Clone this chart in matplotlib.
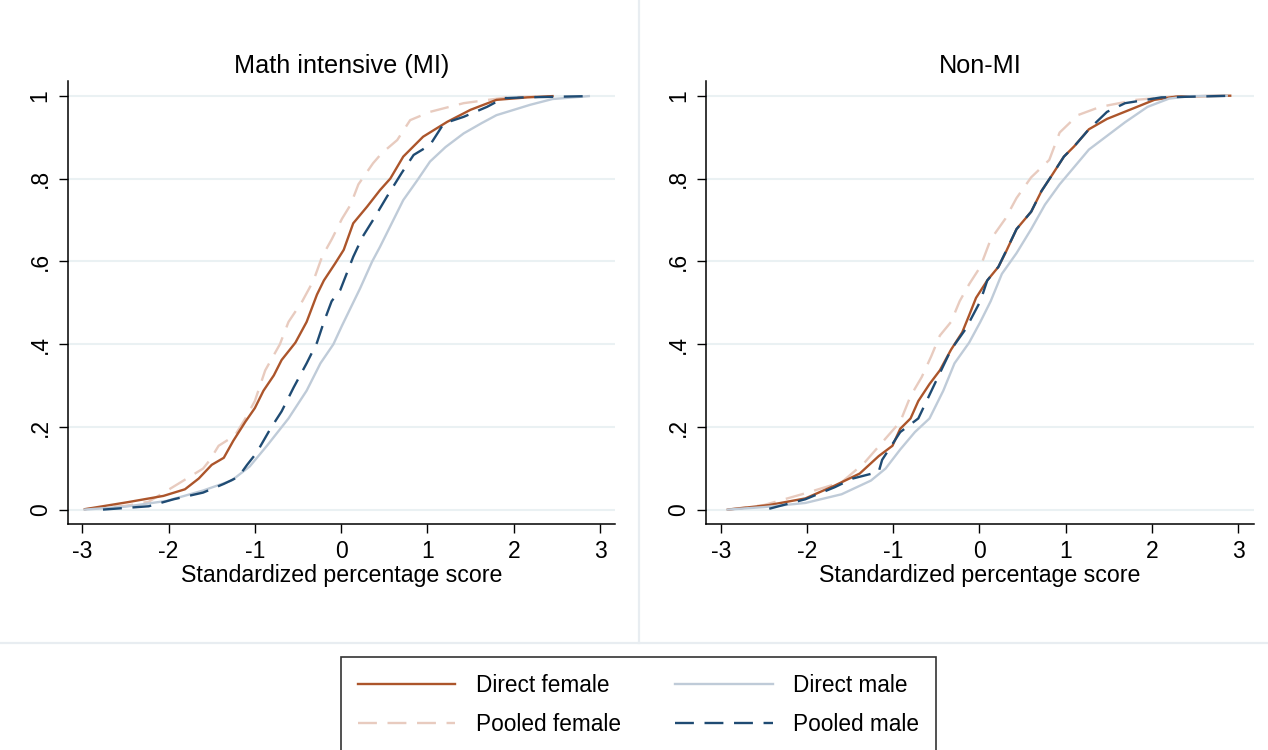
import matplotlib
matplotlib.use("Agg")
import matplotlib.pyplot as plt
from matplotlib.lines import Line2D

plt.rcParams["font.family"] = ["Liberation Sans", "DejaVu Sans"]

# ---- data (score, cumulative share) ----
# Math intensive (MI)
mi_dir_f_x = [-2.97, -2.47, -2.06, -1.81, -1.65, -1.50, -1.36, -1.25, -1.11, -1.00, -0.90, -0.78, -0.69,
              -0.53, -0.40, -0.28, -0.20, -0.07, 0.03, 0.14, 0.30, 0.45, 0.57, 0.72, 0.95, 1.23, 1.50,
              1.80, 2.16, 2.45]
mi_dir_f_y = [0.002, 0.019, 0.034, 0.050, 0.076, 0.109, 0.126, 0.167, 0.213, 0.246, 0.288, 0.325, 0.362,
              0.404, 0.454, 0.520, 0.554, 0.595, 0.628, 0.692, 0.732, 0.772, 0.800, 0.853, 0.901, 0.937,
              0.966, 0.990, 0.996, 0.999]

mi_pool_f_x = [-2.97, -2.50, -2.23, -1.89, -1.60, -1.52, -1.42, -1.23, -1.11, -1.00, -0.88, -0.71, -0.61,
               -0.45, -0.32, -0.22, -0.11, 0.01, 0.11, 0.20, 0.37, 0.47, 0.65, 0.80, 1.03, 1.42,
               1.92, 2.45]
mi_pool_f_y = [0.002, 0.010, 0.020, 0.063, 0.100, 0.121, 0.155, 0.180, 0.221, 0.263, 0.337, 0.400, 0.454,
               0.504, 0.554, 0.612, 0.653, 0.703, 0.737, 0.786, 0.837, 0.861, 0.893, 0.941, 0.961, 0.982,
               0.996, 0.999]

mi_dir_m_x = [-2.97, -2.50, -2.02, -1.60, -1.27, -1.06, -0.86, -0.61, -0.40, -0.24, -0.09, 0.01,
              0.22, 0.36, 0.45, 0.72, 0.88, 1.03, 1.21, 1.42, 1.63, 1.80, 2.19, 2.45, 2.87]
mi_dir_m_y = [0.001, 0.008, 0.022, 0.047, 0.071, 0.105, 0.155, 0.221, 0.288, 0.354, 0.400, 0.445,
              0.535, 0.600, 0.635, 0.748, 0.795, 0.841, 0.876, 0.909, 0.934, 0.953, 0.978, 0.992, 0.999]

mi_pool_m_x = [-2.76, -2.23, -1.94, -1.60, -1.36, -1.19, -1.09, -0.98, -0.82, -0.69, -0.55, -0.40, -0.28,
               -0.20, -0.11, -0.01, 0.14, 0.25, 0.37, 0.53, 0.70, 0.84, 1.03, 1.19, 1.42, 1.69, 1.88,
               2.12, 2.87]
mi_pool_m_y = [0.001, 0.009, 0.026, 0.042, 0.063, 0.080, 0.109, 0.138, 0.196, 0.238, 0.296, 0.354, 0.404,
               0.454, 0.504, 0.531, 0.611, 0.660, 0.700, 0.756, 0.813, 0.857, 0.881, 0.933, 0.949, 0.973,
               0.994, 0.996, 0.999]

# Non-MI
nm_dir_f_x = [-2.92, -2.44, -2.02, -1.68, -1.39, -1.17, -1.01, -0.92, -0.80, -0.71, -0.58, -0.46, -0.33,
              -0.20, -0.12, -0.04, 0.09, 0.22, 0.30, 0.43, 0.60, 0.72, 0.85, 0.98, 1.10, 1.27, 1.48,
              1.78, 2.03, 2.28, 2.91]
nm_dir_f_y = [0.001, 0.012, 0.028, 0.059, 0.088, 0.130, 0.155, 0.196, 0.221, 0.263, 0.304, 0.337, 0.387,
              0.429, 0.470, 0.512, 0.554, 0.587, 0.620, 0.678, 0.720, 0.770, 0.811, 0.853, 0.878, 0.919,
              0.944, 0.969, 0.990, 0.998, 1.000]

nm_pool_f_x = [-2.92, -2.50, -2.06, -1.60, -1.34, -1.13, -0.92, -0.80, -0.67, -0.56, -0.46, -0.33, -0.23,
               -0.12, 0.01, 0.13, 0.30, 0.43, 0.60, 0.81, 0.93, 1.14, 1.40, 1.82, 2.24]
nm_pool_f_y = [0.001, 0.012, 0.038, 0.067, 0.113, 0.163, 0.213, 0.275, 0.321, 0.371, 0.421, 0.454, 0.504,
               0.545, 0.587, 0.653, 0.703, 0.753, 0.803, 0.845, 0.911, 0.953, 0.973, 0.990, 0.998]

nm_dir_m_x = [-2.92, -2.50, -2.02, -1.60, -1.26, -1.09, -0.92, -0.75, -0.58, -0.42, -0.29, -0.12, 0.01,
              0.13, 0.26, 0.43, 0.60, 0.76, 0.93, 1.10, 1.27, 1.48, 1.69, 1.95, 2.20, 2.45, 2.87]
nm_dir_m_y = [0.001, 0.007, 0.017, 0.038, 0.071, 0.100, 0.146, 0.188, 0.221, 0.288, 0.354, 0.404, 0.454,
              0.504, 0.570, 0.620, 0.678, 0.737, 0.786, 0.828, 0.870, 0.903, 0.936, 0.973, 0.993, 0.999,
              1.000]

nm_pool_m_x = [-2.44, -2.02, -1.68, -1.47, -1.17, -1.13, -0.92, -0.71, -0.50, -0.33, -0.16, 0.01, 0.09,
               0.22, 0.43, 0.60, 0.72, 0.85, 0.98, 1.10, 1.27, 1.48, 1.69, 2.11, 2.96]
nm_pool_m_y = [0.003, 0.026, 0.055, 0.076, 0.092, 0.121, 0.188, 0.221, 0.313, 0.387, 0.437, 0.504, 0.554,
               0.587, 0.678, 0.720, 0.770, 0.811, 0.853, 0.878, 0.919, 0.961, 0.982, 0.996, 1.000]

panel_titles = ["Math intensive (MI)", "Non-MI"]
series_names = ["Direct female", "Pooled female", "Direct male", "Pooled male"]
y_ticks = [0, 0.2, 0.4, 0.6, 0.8, 1]
y_tick_labels = ["0", ".2", ".4", ".6", ".8", "1"]
x_ticks = [-3, -2, -1, 0, 1, 2, 3]

c_dir_f = "#AC552B"
c_pool_f = "#E8CBBF"
c_dir_m = "#BFCBD8"
c_pool_m = "#1F4B73"
grid_c = "#EAF1F3"
dash = (8, 4.5)

fig = plt.figure(figsize=(12.68, 7.5), dpi=100)

# subgraph borders (graph combine style)
fig.add_artist(Line2D([639 / 1268, 639 / 1268], [1, 1 - 643 / 750], transform=fig.transFigure,
                      color="#E8EDF1", lw=1.6))
fig.add_artist(Line2D([0, 1], [1 - 643 / 750, 1 - 643 / 750], transform=fig.transFigure,
                      color="#E8EDF1", lw=1.6))

panels = [
    (mi_dir_f_x, mi_dir_f_y, mi_dir_m_x, mi_dir_m_y, mi_pool_f_x, mi_pool_f_y, mi_pool_m_x, mi_pool_m_y),
    (nm_dir_f_x, nm_dir_f_y, nm_dir_m_x, nm_dir_m_y, nm_pool_f_x, nm_pool_f_y, nm_pool_m_x, nm_pool_m_y),
]
rects = [
    [67.7 / 1268, 1 - 524 / 750, (615 - 67.7) / 1268, (524 - 81) / 750],
    [706 / 1268, 1 - 524 / 750, (1254 - 706) / 1268, (524 - 81) / 750],
]
xlims = [(-3.169, 3.174), (-3.174, 3.186)]

handles = []
for i, (rect, data) in enumerate(zip(rects, panels)):
    ax = fig.add_axes(rect)
    dfx, dfy, dmx, dmy, pfx, pfy, pmx, pmy = data
    for yy in y_ticks:
        ax.axhline(yy, color=grid_c, lw=1.5, zorder=0)
    h1, = ax.plot(dfx, dfy, color=c_dir_f, lw=1.7, zorder=2)
    h3, = ax.plot(dmx, dmy, color=c_dir_m, lw=1.7, zorder=2)
    h2, = ax.plot(pfx, pfy, color=c_pool_f, lw=1.7, dashes=dash, zorder=1)
    h4, = ax.plot(pmx, pmy, color=c_pool_m, lw=1.7, dashes=dash, zorder=3)
    handles = [h1, h2, h3, h4]

    ax.set_xlim(*xlims[i])
    ax.set_ylim(-0.0338, 1.0355)
    ax.set_xticks(x_ticks)
    ax.set_xticklabels([str(t) for t in x_ticks], fontsize=16.5)
    ax.set_yticks(y_ticks)
    ax.set_yticklabels(y_tick_labels, fontsize=16.5, rotation=90, va="center")
    ax.tick_params(length=6.5, width=1.0, pad=5)
    for s in ["top", "right"]:
        ax.spines[s].set_visible(False)
    for s in ["left", "bottom"]:
        ax.spines[s].set_linewidth(1.1)
    ax.set_xlabel("Standardized percentage score", fontsize=16.7, labelpad=1)
    ax.set_title(panel_titles[i], fontsize=18.2, pad=6)

leg = fig.legend(handles, series_names, loc="upper center", bbox_to_anchor=(638.5 / 1268, 1 - 657 / 750),
                 ncol=2, fontsize=16.3, handlelength=4.3, handletextpad=0.9, columnspacing=2.4,
                 labelspacing=0.72, borderpad=0.75, borderaxespad=0, fancybox=False, frameon=True)
leg.get_frame().set_edgecolor("black")
leg.get_frame().set_linewidth(1.2)

fig.savefig("out.png", dpi=100)
